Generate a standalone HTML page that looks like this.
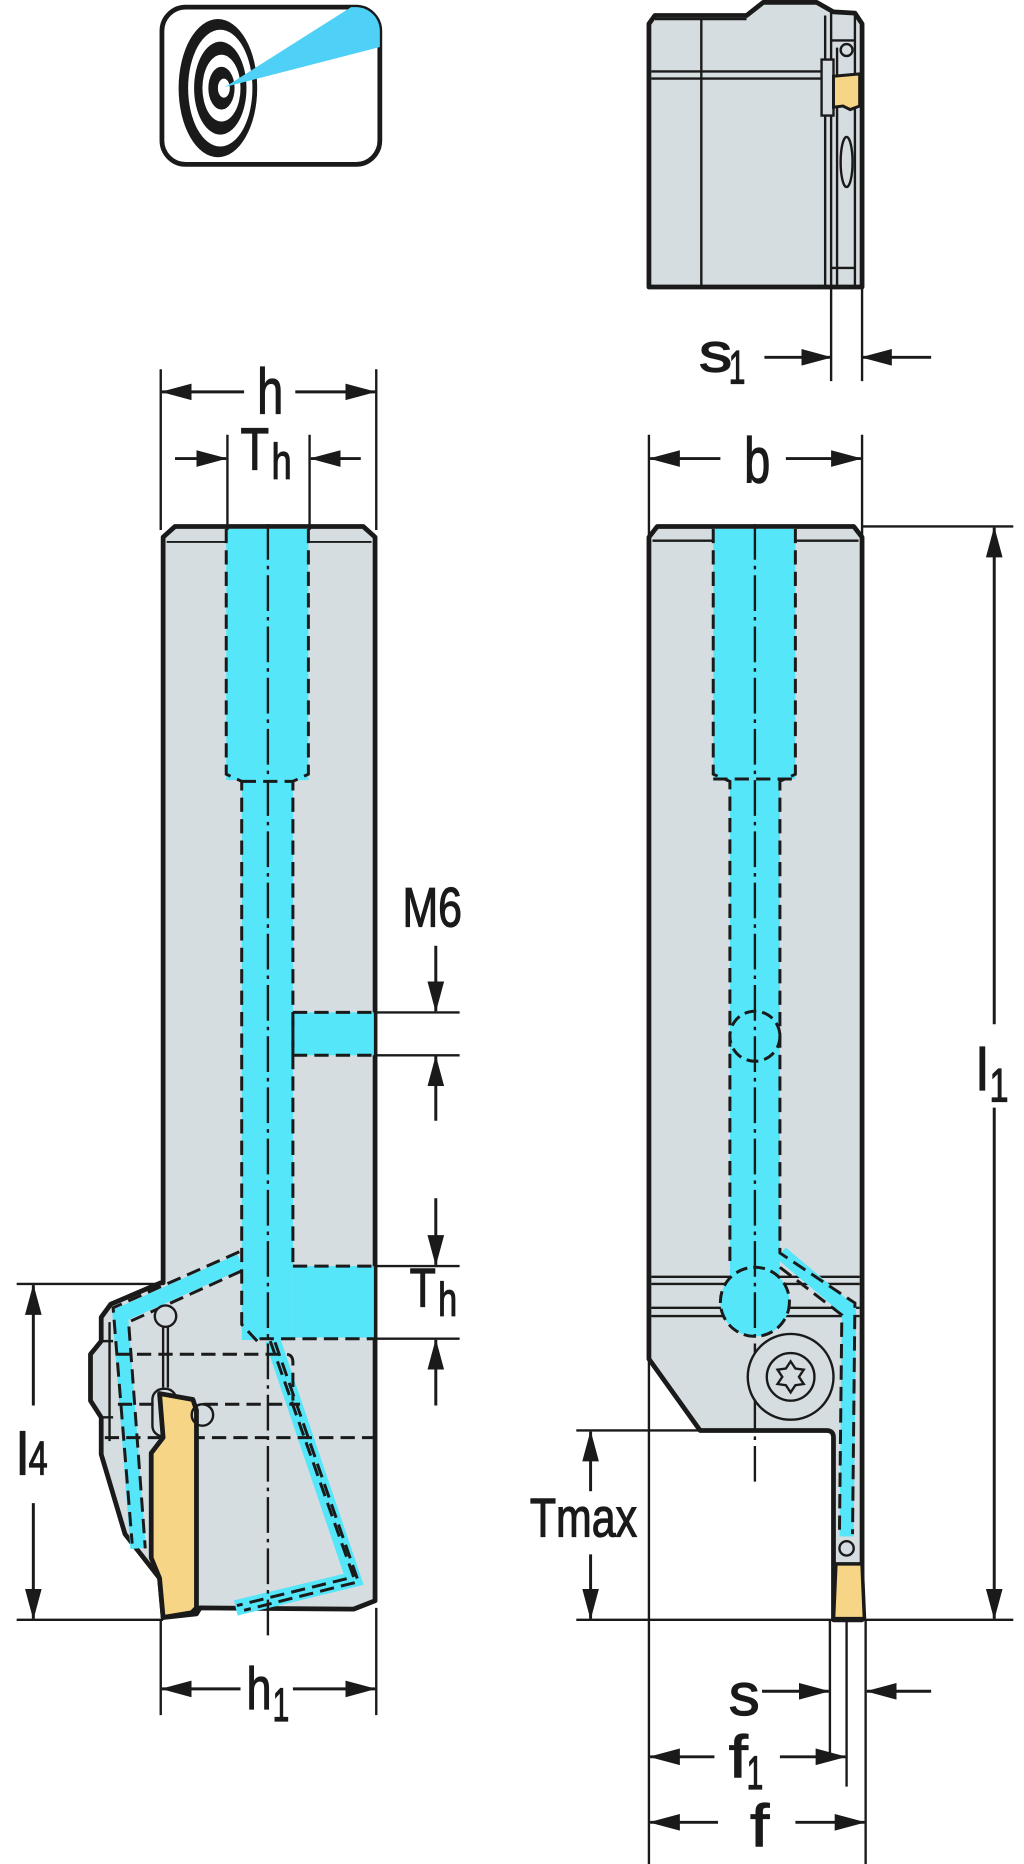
<!DOCTYPE html>
<html><head><meta charset="utf-8"><style>
html,body{margin:0;padding:0;background:#fff;}
svg{display:block;}
text{font-family:"Liberation Sans Narrow","Liberation Sans",sans-serif;fill:#1a1a1a;}
</style></head><body>
<svg width="1024" height="1864" viewBox="0 0 860 1565" preserveAspectRatio="none" xmlns="http://www.w3.org/2000/svg">
<defs>
<marker id="ar" markerWidth="26" markerHeight="14" refX="25" refY="7" orient="auto" markerUnits="userSpaceOnUse">
<path d="M0,0 L26,7 L0,14 Z" fill="#1a1a1a"/></marker>
<clipPath id="ic"><rect x="136" y="6" width="183" height="132" rx="20"/></clipPath>
</defs>
<g stroke="#1a1a1a" fill="none">

<!-- ICON -->
<rect x="136" y="6" width="183" height="132" rx="20" fill="#fff" stroke-width="4"/>
<g clip-path="url(#ic)" stroke="none">
<ellipse cx="183" cy="74" rx="33" ry="58" fill="#1a1a1a"/>
<ellipse cx="185" cy="74" rx="27" ry="49" fill="#fff"/>
<ellipse cx="185" cy="74" rx="22" ry="39" fill="#1a1a1a"/>
<ellipse cx="186" cy="74" rx="16" ry="28" fill="#fff"/>
<ellipse cx="186" cy="74" rx="11" ry="18" fill="#1a1a1a"/>
<ellipse cx="188" cy="74" rx="5" ry="8" fill="#fff"/>
<path d="M189,73 L298,4 L325,4 L325,38 Z" fill="#4fd0f7"/>
</g>

<!-- TOP-RIGHT VIEW -->
<path d="M545,20 L550,13 L627,13 L641,2 L686,2 L700,10 L718,11 L724,20 L724,241 L545,241 Z" fill="#d5dde0" stroke-width="4" stroke-linejoin="round"/>
<path d="M550,16 L627,16 M589,16 L589,241 M547,60 L693,60 M547,66 L693,66 M693,13 L693,241 M698,10 L698,241 M703,40 L703,241 M718,11 L718,241 M698,34 L718,34 M698,225 L718,225" stroke-width="2"/>
<path d="M690,50 L700,50 L700,97 L690,97 Z" stroke-width="2" fill="#d5dde0"/>
<path d="M700,64 L722,62 L722,89 L714,92 L708,89 L700,90 Z" fill="#f7d587" stroke-width="2.5"/>
<circle cx="711" cy="42" r="5" stroke-width="2" fill="#d5dde0"/>
<ellipse cx="711" cy="136" rx="5" ry="21" stroke-width="2"/>
<!-- s1 -->
<path d="M698,241 L698,320 M724,241 L724,320" stroke-width="2"/>
<path d="M642,300 L698,300" stroke-width="2.5" marker-end="url(#ar)"/>
<path d="M782,300 L724,300" stroke-width="2.5" marker-end="url(#ar)"/>
<text x="587" y="312" font-size="46" textLength="28" lengthAdjust="spacingAndGlyphs">s</text>
<text x="612" y="322" font-size="40" textLength="14" lengthAdjust="spacingAndGlyphs">1</text>

<!-- LEFT BOTTOM VIEW -->
<path d="M137,451 L147,442 L305,442 L315,451 L315,1344 L297,1351 L168,1350 L165,1355 L137,1358 L134,1325 L105,1288 L85,1221 L85,1190 L76,1176 L76,1137 L85,1126 L85,1106 L93,1095 L135,1077 L137,1077 Z" fill="#d5dde0" stroke-width="4" stroke-linejoin="round"/>
<path d="M140,455 L312,455" stroke-width="1.5"/>
<path d="M85,1126 L95,1126 M85,1190 L95,1190 M92,1110 L92,1210" stroke-width="2"/>
<rect x="190" y="444" width="69" height="211" fill="#55e6fa" stroke="none"/>
<rect x="203" y="655" width="43" height="470" fill="#55e6fa" stroke="none"/>
<rect x="246" y="850" width="68" height="36" fill="#55e6fa" stroke="none"/>
<rect x="246" y="1063" width="68" height="60" fill="#55e6fa" stroke="none"/>
<polyline points="202,1059 101,1104 116,1300" stroke="#55e6fa" stroke-width="13" stroke-linejoin="miter"/>
<polyline points="229,1125 297,1326 198,1350" stroke="#55e6fa" stroke-width="13" stroke-linejoin="miter"/>
<g stroke-width="2.5" stroke-dasharray="12,6">
<path d="M190,444 L190,650 L203,656 L203,1112 L216,1126 M259,444 L259,650 L246,656 L246,1063"/>
<path d="M203,656 L246,656"/>
<path d="M246,850 L314,850 M246,886 L314,886 M246,886 L246,850 M246,1063 L314,1063 M218,1124 L314,1124"/>
<path d="M201,1051 L95,1098 L111,1296 M203,1067 L108,1110 L122,1300"/>
<path d="M227,1126 L297,1324 L199,1348 M231,1127 L301,1328 L205,1352"/>
<path d="M97,1137 L240,1137 Q246,1137 246,1144 L246,1176 M99,1179 L252,1179 M88,1207 L314,1207"/>
</g>
<path d="M225,440 L225,1376" stroke-width="2" stroke-dasharray="30,5,3,5"/>
<circle cx="139" cy="1105" r="9" stroke-width="2" fill="#d5dde0"/>
<path d="M137,1114 L137,1165 M141,1114 L141,1165" stroke-width="2"/>
<rect x="128" y="1166" width="20" height="40" rx="9" stroke-width="2"/>
<path d="M134,1170 L162,1175 L165,1184 L165,1350 L161,1354 L137,1358 L134,1325 L127,1308 L127,1220 L137,1207 Z" fill="#f7d587" stroke-width="4" stroke-linejoin="round"/>
<circle cx="170" cy="1188" r="9" stroke-width="2"/>

<!-- Left dims -->
<path d="M135,310 L135,445 M316,310 L316,445" stroke-width="2"/>
<path d="M205,329 L136,329" stroke-width="2.5" marker-end="url(#ar)"/>
<path d="M248,329 L315,329" stroke-width="2.5" marker-end="url(#ar)"/>
<text x="216" y="347" font-size="54" textLength="22" lengthAdjust="spacingAndGlyphs">h</text>
<path d="M191,365 L191,445 M260,365 L260,445" stroke-width="2"/>
<path d="M147,385 L190,385" stroke-width="2.5" marker-end="url(#ar)"/>
<path d="M303,385 L261,385" stroke-width="2.5" marker-end="url(#ar)"/>
<text x="202" y="394" font-size="50" textLength="24" lengthAdjust="spacingAndGlyphs">T</text>
<text x="228" y="402" font-size="42" textLength="17" lengthAdjust="spacingAndGlyphs">h</text>

<text x="338" y="778" font-size="47" textLength="50" lengthAdjust="spacingAndGlyphs">M6</text>
<path d="M314,850 L386,850 M314,886 L386,886 M314,1063 L386,1063 M314,1124 L386,1124" stroke-width="2"/>
<path d="M366,794 L366,849" stroke-width="2.5" marker-end="url(#ar)"/>
<path d="M366,941 L366,887" stroke-width="2.5" marker-end="url(#ar)"/>
<path d="M366,1006 L366,1062" stroke-width="2.5" marker-end="url(#ar)"/>
<path d="M366,1180 L366,1125" stroke-width="2.5" marker-end="url(#ar)"/>
<text x="344" y="1097" font-size="46" textLength="22" lengthAdjust="spacingAndGlyphs">T</text>
<text x="368" y="1105" font-size="40" textLength="16" lengthAdjust="spacingAndGlyphs">h</text>

<path d="M14,1078 L137,1078 M14,1360 L137,1360" stroke-width="2"/>
<path d="M28,1180 L28,1079" stroke-width="2.5" marker-end="url(#ar)"/>
<path d="M28,1262 L28,1359" stroke-width="2.5" marker-end="url(#ar)"/>
<text x="14" y="1238" font-size="50" textLength="10" lengthAdjust="spacingAndGlyphs">l</text>
<text x="24" y="1238" font-size="40" textLength="16" lengthAdjust="spacingAndGlyphs">4</text>

<path d="M135,1360 L135,1440 M316,1350 L316,1440" stroke-width="2"/>
<path d="M202,1418 L136,1418" stroke-width="2.5" marker-end="url(#ar)"/>
<path d="M246,1418 L315,1418" stroke-width="2.5" marker-end="url(#ar)"/>
<text x="207" y="1435" font-size="50" textLength="21" lengthAdjust="spacingAndGlyphs">h</text>
<text x="229" y="1445" font-size="40" textLength="14" lengthAdjust="spacingAndGlyphs">1</text>

<!-- RIGHT BOTTOM VIEW -->
<path d="M545,451 L552,442 L717,442 L724,451 L724,1360 L700,1360 L700,1207 Q700,1201 694,1201 L588,1201 L545,1141 Z" fill="#d5dde0" stroke-width="4" stroke-linejoin="round"/>
<path d="M548,454 L721,454 M547,1072 L722,1072 M547,1078 L722,1078 M547,1098 L722,1098 M547,1105 L722,1105" stroke-width="2"/>
<rect x="599" y="444" width="69" height="210" fill="#55e6fa" stroke="none"/>
<rect x="613" y="654" width="42" height="420" fill="#55e6fa" stroke="none"/>
<polyline points="656,1052 713,1100 711,1290" stroke="#55e6fa" stroke-width="12"/>
<circle cx="634" cy="1093" r="29" fill="#55e6fa" stroke-width="2.5" stroke-dasharray="10,5"/>
<circle cx="634" cy="870" r="21" fill="#55e6fa" stroke-width="2.5" stroke-dasharray="10,5"/>
<g stroke-width="2.5" stroke-dasharray="12,6">
<path d="M599,444 L599,650 L613,656 L613,1064 M668,444 L668,650 L655,656 L655,1052 L718,1094 L716,1288 M655,1064 L707,1104 L705,1288"/>
<path d="M599,654 L668,654"/>
</g>
<path d="M634,440 L634,1245" stroke-width="2" stroke-dasharray="30,5,3,5"/>
<circle cx="664" cy="1156" r="36" stroke-width="2" fill="#d5dde0"/>
<circle cx="664" cy="1156" r="20" stroke-width="2"/>
<path d="M664,1143 L668,1149 L675,1150 L671,1156 L675,1162 L668,1163 L664,1169 L660,1163 L653,1162 L657,1156 L653,1150 L660,1149 Z" stroke-width="2"/>
<circle cx="711" cy="1300" r="6" stroke-width="2" fill="#d5dde0"/>
<path d="M702,1313 L724,1313 L726,1359 L700,1359 Z" fill="#f7d587" stroke-width="3"/>

<!-- Right dims -->
<path d="M545,365 L545,1565 M724,365 L724,451" stroke-width="2"/>
<path d="M605,385 L546,385" stroke-width="2.5" marker-end="url(#ar)"/>
<path d="M660,385 L723,385" stroke-width="2.5" marker-end="url(#ar)"/>
<text x="625" y="405" font-size="54" textLength="22" lengthAdjust="spacingAndGlyphs">b</text>
<path d="M724,442 L851,442 M484,1360 L851,1360" stroke-width="2"/>
<path d="M835,860 L835,443" stroke-width="2.5" marker-end="url(#ar)"/>
<path d="M835,930 L835,1359" stroke-width="2.5" marker-end="url(#ar)"/>
<text x="820" y="915" font-size="50" textLength="10" lengthAdjust="spacingAndGlyphs">l</text>
<text x="831" y="925" font-size="40" textLength="16" lengthAdjust="spacingAndGlyphs">1</text>
<path d="M484,1201 L588,1201" stroke-width="2"/>
<path d="M496,1252 L496,1202" stroke-width="2.5" marker-end="url(#ar)"/>
<path d="M496,1305 L496,1359" stroke-width="2.5" marker-end="url(#ar)"/>
<text x="445" y="1290" font-size="46" textLength="90" lengthAdjust="spacingAndGlyphs">Tmax</text>
<path d="M697,1360 L697,1475 M711,1360 L711,1500 M727,1360 L727,1565" stroke-width="2"/>
<path d="M640,1420 L696,1420" stroke-width="2.5" marker-end="url(#ar)"/>
<path d="M782,1420 L728,1420" stroke-width="2.5" marker-end="url(#ar)"/>
<text x="612" y="1440" font-size="50" textLength="26" lengthAdjust="spacingAndGlyphs">s</text>
<path d="M600,1475 L546,1475" stroke-width="2.5" marker-end="url(#ar)"/>
<path d="M655,1475 L710,1475" stroke-width="2.5" marker-end="url(#ar)"/>
<text x="612" y="1492" font-size="50" textLength="16" lengthAdjust="spacingAndGlyphs">f</text>
<text x="627" y="1502" font-size="40" textLength="14" lengthAdjust="spacingAndGlyphs">1</text>
<path d="M603,1530 L546,1530" stroke-width="2.5" marker-end="url(#ar)"/>
<path d="M668,1530 L726,1530" stroke-width="2.5" marker-end="url(#ar)"/>
<text x="630" y="1550" font-size="50" textLength="16" lengthAdjust="spacingAndGlyphs">f</text>
</g>
</svg>
</body></html>
